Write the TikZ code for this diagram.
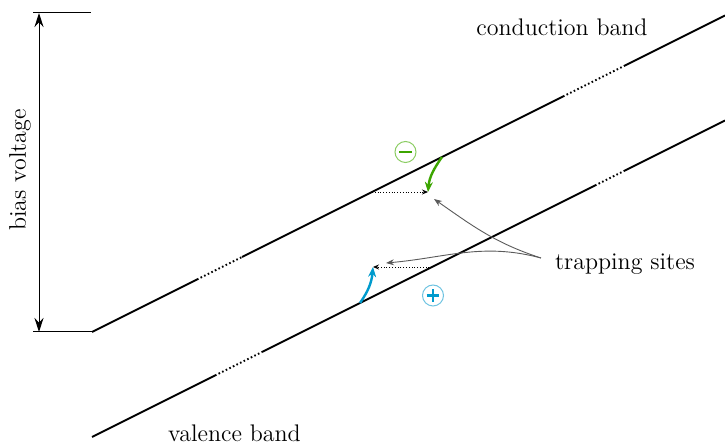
\documentclass[tikz,border=0pt]{standalone}
\usetikzlibrary{arrows.meta}
\definecolor{egreen}{RGB}{60,165,0}
\definecolor{lgreen}{RGB}{140,205,100}
\definecolor{hblue}{RGB}{0,155,205}
\definecolor{lblue}{RGB}{110,195,225}
\definecolor{pgray}{RGB}{90,90,90}
\begin{document}
\begin{tikzpicture}[x=0.5pt,y=-0.5pt,
  band/.style={line width=1pt},
  banddot/.style={line width=1pt,dash pattern=on 0.8pt off 1.2pt},
  hop/.style={densely dotted,line width=0.4pt,-{Stealth[length=3pt,width=2.5pt]}},
  pointer/.style={pgray,line width=0.45pt,-{Stealth[length=4pt,width=3pt]}},
  lbl/.style={font=\fontsize{12}{14}\selectfont,inner sep=0pt},
  charge/.style={circle,draw,line width=0.5pt,minimum size=10.5pt,inner sep=0pt},
  sign/.style={line width=1.4pt}]
\useasboundingbox (0,0) rectangle (725,443);
% conduction band
\coordinate (c0) at (92,332);
\coordinate (c1) at (197,279.5);
\coordinate (c2) at (242,257);
\coordinate (c3) at (563,96.5);
\coordinate (c4) at (625,65.5);
\coordinate (c5) at (725,15.5);
\draw[band] (c0) -- (c1);
\draw[banddot] (c1) -- (c2);
\draw[band] (c2) -- (c3);
\draw[banddot] (c3) -- (c4);
\draw[band] (c4) -- (c5);
% valence band
\coordinate (v0) at (92,437);
\coordinate (v1) at (215,375.5);
\coordinate (v2) at (262,352);
\coordinate (v3) at (595,185.5);
\coordinate (v4) at (625,170.5);
\coordinate (v5) at (725,120.5);
\draw[band] (v0) -- (v1);
\draw[banddot] (v1) -- (v2);
\draw[band] (v2) -- (v3);
\draw[banddot] (v3) -- (v4);
\draw[band] (v4) -- (v5);
% bias voltage
\coordinate (bt) at (39,13);
\coordinate (bb) at (39,332);
\coordinate (tl) at (33,13);
\coordinate (tr) at (91,13);
\coordinate (bl) at (33,332);
\draw[line width=0.5pt] (tl) -- (tr);
\draw[line width=0.5pt] (bl) -- (c0);
\draw[line width=0.5pt,{Stealth[length=7pt,width=4.5pt]}-{Stealth[length=7pt,width=4.5pt]}] (bt) -- (bb);
\node[lbl,rotate=90] (bias) at (20,170) {bias voltage};
% traps
\coordinate (t1) at (428,192);
\coordinate (t2) at (373,267);
\coordinate (e0) at (442,157);
\coordinate (h0) at (360,303);
\coordinate (d1) at (372,192);
\coordinate (d2) at (432,267);
\draw[hop] (d1) -- (t1);
\draw[hop] (d2) -- (t2);
\draw[egreen,line width=1.2pt,-{Stealth[length=5pt,width=4pt]}] (e0) to[out=-125,in=85] (t1);
\draw[hblue,line width=1.2pt,-{Stealth[length=5pt,width=4pt]}] (h0) to[out=55,in=-95] (t2);
% charges
\node[charge,draw=lgreen] (minus) at (405.5,152) {};
\draw[sign,egreen] ([xshift=-3.2pt]minus.center) -- ([xshift=3.2pt]minus.center);
\node[charge,draw=lblue] (plus) at (433,295.5) {};
\draw[sign,hblue] ([xshift=-3.2pt]plus.center) -- ([xshift=3.2pt]plus.center);
\draw[sign,hblue] ([yshift=-3.2pt]plus.center) -- ([yshift=3.2pt]plus.center);
% labels
\node[lbl] (cb) at (562,27) {conduction band};
\node[lbl] (vb) at (234.5,433) {valence band};
\node[lbl] (ts) at (625,264) {trapping sites};
\coordinate (ts0) at (541,258);
\coordinate (p1) at (434,199);
\coordinate (p2) at (386,263);
\draw[pointer] (ts0) to[out=162,in=-35] (p1);
\draw[pointer] (ts0) to[out=165,in=5] (p2);
\end{tikzpicture}
\end{document}
